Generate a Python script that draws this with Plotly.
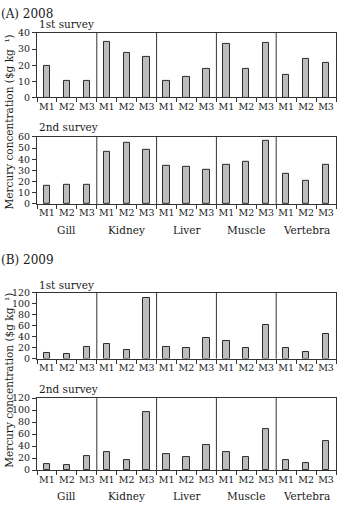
import plotly.graph_objects as go

W, H = 339, 512
ML, MR = 37, 3
PW = W - ML - MR

tissues = ["Gill", "Kidney", "Liver", "Muscle", "Vertebra"]
methods = ["M1", "M2", "M3"]

a2008_s1 = [19.5, 10, 10, 34.5, 27.5, 25, 10.5, 12.8, 17.8, 33.2, 17.8, 33.8, 13.8, 24.2, 21.5]
a2008_s2 = [16, 16.7, 17, 46.2, 54.8, 48.3, 33.8, 33.3, 30.3, 35, 37.5, 56, 26.8, 21, 35]
b2009_s1 = [10.5, 8.8, 20.5, 26.5, 16, 110, 21.5, 18.5, 38.2, 32.8, 20.2, 61.5, 19.7, 11.3, 45.5]
b2009_s2 = [10.5, 9, 23.8, 29.8, 16, 96, 26, 21, 42.5, 29.5, 21.5, 68, 17, 12, 48]

panels = [
    dict(vals=a2008_s1, top=27.5, bot=93.5, rng=40, dt=10, title="1st survey", ty=18, groups=False),
    dict(vals=a2008_s2, top=133.7, bot=202.3, rng=60, dt=10, title="2nd survey", ty=124, groups=True),
    dict(vals=b2009_s1, top=293.3, bot=360.3, rng=120, dt=20, title="1st survey", ty=285, groups=False),
    dict(vals=b2009_s2, top=400.7, bot=474.3, rng=120, dt=20, title="2nd survey", ty=391, groups=True),
]

def py(px):
    return 1 - px / H

def pxx(px):
    return (px - ML) / PW

FONT = "DejaVu Serif"
AX = "#333333"
TXT = "#1a1a1a"
n = len(tissues) * len(methods)
xs = list(range(n))
labels = methods * len(tissues)
bounds = [i + 0.5 for i in range(-1, n)]
dividers = [len(methods) * k - 0.5 for k in range(1, len(tissues))]

fig = go.Figure()
annotations = []
shapes = []
for i, p in enumerate(panels):
    k = "" if i == 0 else str(i + 1)
    fig.add_trace(go.Bar(
        x=xs, y=p["vals"], xaxis="x" + k, yaxis="y" + k, width=0.32,
        marker=dict(color="#bdbdbd", line=dict(color="#2a2a2a", width=1)),
        showlegend=False, hoverinfo="y",
    ))
    fig.update_layout(**{
        "xaxis" + k: dict(
            domain=[0, 1], anchor="y" + k, range=[-0.5, n - 0.5],
            tickmode="array", tickvals=xs, ticktext=labels, ticks="",
            showline=True, linecolor=AX, linewidth=1, mirror=True,
            showgrid=False, zeroline=False, fixedrange=True,
            tickfont=dict(family=FONT, size=9.5, color=TXT),
            minor=dict(tickmode="array", tickvals=bounds, ticks="outside",
                       ticklen=4, tickcolor=AX, tickwidth=1, showgrid=False),
        ),
        "yaxis" + k: dict(
            domain=[py(p["bot"]), py(p["top"])], anchor="x" + k,
            range=[0, p["rng"]], dtick=p["dt"], tick0=0,
            ticks="outside", ticklen=4, tickcolor=AX, tickwidth=1,
            showline=True, linecolor=AX, linewidth=1, mirror=True,
            showgrid=False, zeroline=False, fixedrange=True,
            tickfont=dict(family=FONT, size=9.5, color=TXT),
        ),
    })
    for d in dividers:
        shapes.append(dict(type="line", xref="x" + k, yref="y" + k + " domain",
                           x0=d, x1=d, y0=0, y1=1, line=dict(color=AX, width=1)))
    annotations.append(dict(text=p["title"], xref="paper", yref="paper",
                            x=pxx(37), y=py(p["ty"]), xanchor="left", yanchor="middle",
                            showarrow=False, font=dict(family=FONT, size=10.5, color=TXT)))
    if p["groups"]:
        for g, t in enumerate(tissues):
            annotations.append(dict(text=t, xref="x" + k, yref="paper",
                                    x=g * len(methods) + 1, y=py(p["bot"] + 26.5),
                                    xanchor="center", yanchor="middle", showarrow=False,
                                    font=dict(family=FONT, size=10.5, color=TXT)))

ytitle = "Mercury concentration ($g kg\u00a0\u00a0\u00b9)"
for txt, ty, cy in [("(A) 2008", 0, 119), ("(B) 2009", 260, 383)]:
    annotations.append(dict(text=txt, xref="paper", yref="paper", x=pxx(0), y=py(ty),
                            xanchor="left", yanchor="top" if ty == 0 else "middle",
                            showarrow=False, borderpad=0,
                            font=dict(family=FONT, size=12, color=TXT)))
    annotations.append(dict(text=ytitle, xref="paper", yref="paper", x=pxx(9), y=py(cy),
                            xanchor="center", yanchor="middle", textangle=-90, showarrow=False,
                            font=dict(family=FONT, size=10.5, color=TXT)))

fig.update_layout(
    width=W, height=H, margin=dict(l=ML, r=MR, t=0, b=0),
    paper_bgcolor="white", plot_bgcolor="white",
    annotations=annotations, shapes=shapes, bargap=0,
)
fig.write_html("out.html")
